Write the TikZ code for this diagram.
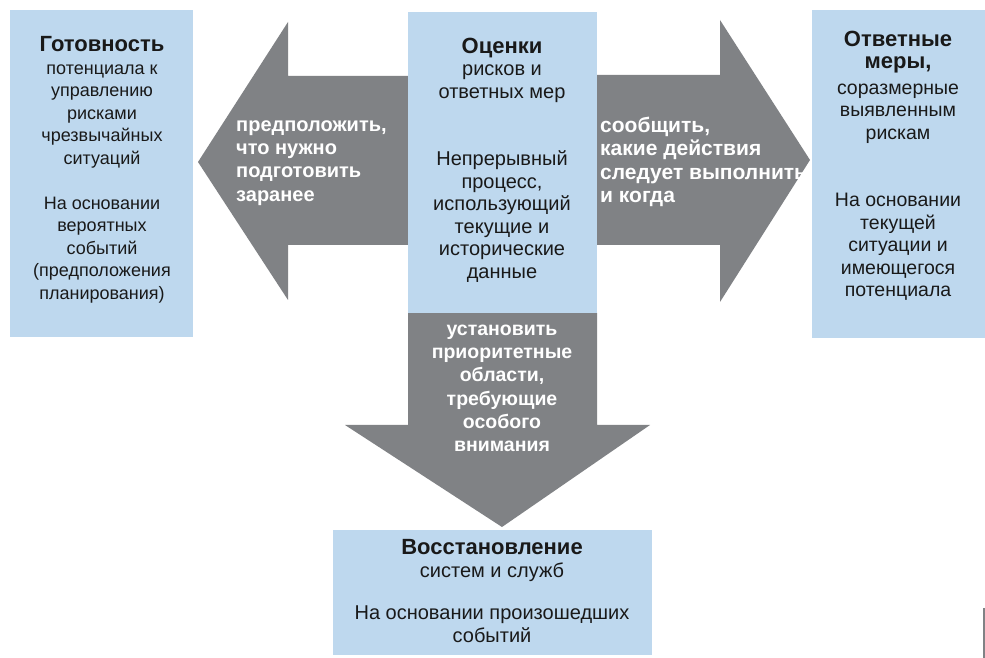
\documentclass[tikz,border=0pt]{standalone}
\usepackage{fontspec}
\setmainfont{Liberation Sans}
\definecolor{boxblue}{RGB}{190,216,238}
\definecolor{arrgray}{RGB}{128,130,133}
\definecolor{txtdark}{RGB}{25,25,25}
\tikzset{
  bluebox/.style={fill=boxblue, draw=none},
  grayarrow/.style={fill=arrgray, draw=none},
  boxtext/.style={text=txtdark, align=center, inner sep=0pt},
  arrtext/.style={text=white, inner sep=0pt},
}
\newcommand{\ttl}[1]{{\bfseries\fontsize{22}{22.5}\selectfont #1}}
\begin{document}
\begin{tikzpicture}[x=1pt,y=1pt]
\useasboundingbox (0,0) rectangle (985,658);
\fill[white] (0,0) rectangle (985,658);
% arrows (y = 658 - pixel y)
\fill[grayarrow] (408,582) -- (288,582) -- (288,636) -- (198,496) -- (288,358) -- (288,413) -- (408,413) -- cycle;
\fill[grayarrow] (597,583) -- (720,583) -- (720,638) -- (810,498) -- (720,356) -- (720,413) -- (597,413) -- cycle;
\fill[grayarrow] (408,345) -- (597,345) -- (597,233) -- (650,233) -- (502,131) -- (345,233) -- (408,233) -- cycle;
% boxes
\fill[bluebox] (10,648) rectangle (193,321);
\fill[bluebox] (408,646) rectangle (597,345);
\fill[bluebox] (812,648) rectangle (985,320);
\fill[bluebox] (333,128) rectangle (652,3);
% box texts
\node[boxtext, font=\fontsize{18}{22.5}\selectfont] (prep) at (102,488) {\ttl{Готовность}\\потенциала к\\управлению\\рисками\\чрезвычайных\\ситуаций\\[22.5pt]На основании\\вероятных\\событий\\(предположения\\планирования)};
\node[boxtext, font=\fontsize{20}{22.5}\selectfont] (assess) at (502,498) {\ttl{Оценки}\\рисков и\\ответных мер\\[45pt]Непрерывный\\процесс,\\использующий\\текущие и\\исторические\\данные};
\node[boxtext, font=\fontsize{19.5}{22.5}\selectfont] (resp) at (898,492) {\ttl{Ответные}\\\ttl{меры,}\\[3pt]соразмерные\\выявленным\\рискам\\[45pt]На основании\\текущей\\ситуации и\\имеющегося\\потенциала};
\node[boxtext, font=\fontsize{20}{22.5}\selectfont] (recov) at (492,67) {\ttl{Восстановление}\\систем и служб\\[20pt]На основании произошедших\\событий};
% arrow texts
\node[arrtext, align=left, anchor=west, font=\bfseries\fontsize{20}{23.3}\selectfont] (ta) at (236,495) {предположить,\\что нужно\\подготовить\\заранее};
\node[arrtext, align=left, anchor=west, font=\bfseries\fontsize{21}{23.3}\selectfont] (tb) at (600,496) {сообщить,\\какие действия\\следует выполнить\\и когда};
\node[arrtext, align=center, font=\bfseries\fontsize{19.5}{23.3}\selectfont] (tc) at (502,269.5) {установить\\приоритетные\\области,\\требующие\\особого\\внимания};
% edge mark
\draw[arrgray, line width=1.2pt] (984,50) -- (984,0);
\end{tikzpicture}
\end{document}
